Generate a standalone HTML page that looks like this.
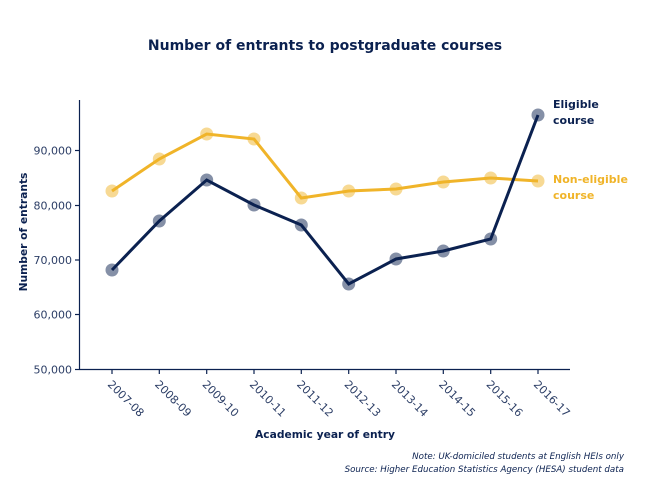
<!DOCTYPE html>
<html><head><meta charset="utf-8"><style>
html,body{margin:0;padding:0;background:#fff;}
svg{display:block;font-family:"DejaVu Sans","Liberation Sans",sans-serif;}
</style></head><body>
<svg width="650" height="480" xmlns="http://www.w3.org/2000/svg">
<text x="325" y="50" text-anchor="middle" font-size="14" font-weight="bold" fill="#0b2150">Number of entrants to postgraduate courses</text>
<g stroke="#0b2150" stroke-width="1.2" fill="none">
<line x1="79.5" y1="100" x2="79.5" y2="370"/>
<line x1="79" y1="369.5" x2="570" y2="369.5"/>
<line x1="75" y1="150.5" x2="79" y2="150.5"/>
<line x1="75" y1="205.5" x2="79" y2="205.5"/>
<line x1="75" y1="260" x2="79" y2="260"/>
<line x1="75" y1="314.5" x2="79" y2="314.5"/>
<line x1="75" y1="369.5" x2="79" y2="369.5"/>
<line x1="112" y1="369" x2="112" y2="374"/><line x1="159.3" y1="369" x2="159.3" y2="374"/><line x1="206.7" y1="369" x2="206.7" y2="374"/><line x1="254" y1="369" x2="254" y2="374"/><line x1="301.3" y1="369" x2="301.3" y2="374"/><line x1="348.7" y1="369" x2="348.7" y2="374"/><line x1="396" y1="369" x2="396" y2="374"/><line x1="443.3" y1="369" x2="443.3" y2="374"/><line x1="490.7" y1="369" x2="490.7" y2="374"/><line x1="538" y1="369" x2="538" y2="374"/>
</g>
<g font-size="11" fill="#2c3e66" text-anchor="end">
<text x="72" y="154.5">90,000</text><text x="72" y="209.5">80,000</text><text x="72" y="264">70,000</text><text x="72" y="318.5">60,000</text><text x="72" y="373.5">50,000</text>
</g>
<g font-size="11" fill="#2c3e66">
<text transform="translate(107,385) rotate(45)">2007-08</text>
<text transform="translate(154.3,385) rotate(45)">2008-09</text>
<text transform="translate(201.7,385) rotate(45)">2009-10</text>
<text transform="translate(249,385) rotate(45)">2010-11</text>
<text transform="translate(296.3,385) rotate(45)">2011-12</text>
<text transform="translate(343.7,385) rotate(45)">2012-13</text>
<text transform="translate(391,385) rotate(45)">2013-14</text>
<text transform="translate(438.3,385) rotate(45)">2014-15</text>
<text transform="translate(485.7,385) rotate(45)">2015-16</text>
<text transform="translate(533,385) rotate(45)">2016-17</text>
</g>
<text transform="translate(27,232) rotate(-90)" text-anchor="middle" font-size="10.7" font-weight="bold" fill="#0b2150">Number of entrants</text>
<text x="325" y="438" text-anchor="middle" font-size="10.7" font-weight="bold" fill="#0b2150">Academic year of entry</text>
<g fill="#f0b429" opacity="0.5">
<circle cx="112" cy="191" r="6.5"/><circle cx="159.3" cy="159" r="6.5"/><circle cx="206.7" cy="134" r="6.5"/><circle cx="254" cy="139" r="6.5"/><circle cx="301.3" cy="198" r="6.5"/><circle cx="348.7" cy="191" r="6.5"/><circle cx="396" cy="189" r="6.5"/><circle cx="443.3" cy="182" r="6.5"/><circle cx="490.7" cy="178" r="6.5"/><circle cx="538" cy="181" r="6.5"/>
</g>
<polyline fill="none" stroke="#f0b429" stroke-width="3" points="112,191 159.3,159 206.7,134 254,139 301.3,198 348.7,191 396,189 443.3,182 490.7,178 538,181"/>
<g fill="#0b2150" opacity="0.5">
<circle cx="112" cy="270" r="6.5"/><circle cx="159.3" cy="221" r="6.5"/><circle cx="206.7" cy="180" r="6.5"/><circle cx="254" cy="205" r="6.5"/><circle cx="301.3" cy="225" r="6.5"/><circle cx="348.7" cy="284" r="6.5"/><circle cx="396" cy="259" r="6.5"/><circle cx="443.3" cy="251" r="6.5"/><circle cx="490.7" cy="239" r="6.5"/><circle cx="538" cy="115" r="6.5"/>
</g>
<polyline fill="none" stroke="#0b2150" stroke-width="3" points="112,270 159.3,221 206.7,180 254,205 301.3,225 348.7,284 396,259 443.3,251 490.7,239 538,115"/>
<g font-size="11" font-weight="bold">
<text x="553" y="108" fill="#0b2150">Eligible</text><text x="553" y="124" fill="#0b2150">course</text>
<text x="553" y="183" fill="#f0b429">Non-eligible</text><text x="553" y="199" fill="#f0b429">course</text>
</g>
<g font-size="8.7" font-style="italic" fill="#0b2150" text-anchor="end">
<text x="624" y="459">Note: UK-domiciled students at English HEIs only</text>
<text x="624" y="472">Source: Higher Education Statistics Agency (HESA) student data</text>
</g>
</svg>
</body></html>
